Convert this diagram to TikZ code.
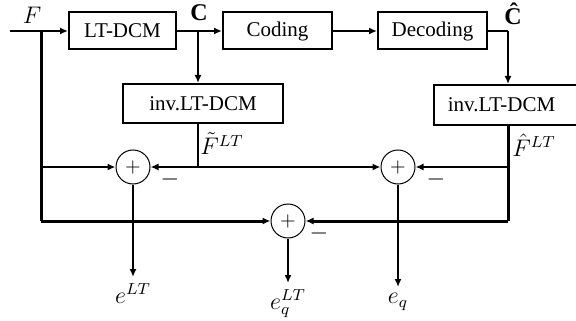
\documentclass[tikz,border=0pt]{standalone}
\usepackage{fontspec}
\setmainfont{Liberation Serif}
\usetikzlibrary{arrows.meta}
\tikzset{
  blk/.style={draw,line width=1pt,inner sep=0pt,font=\fontsize{10.5}{12}\selectfont},
  sumnode/.style={circle,draw,line width=0.5pt,minimum size=17pt,inner sep=0pt},
  sig/.style={line width=1pt},
  thk/.style={line width=1.5pt},
  arr/.style={sig,-{Latex[length=4pt,width=3.5pt]}},
  lbl/.style={inner sep=0pt,font=\large},
  outlbl/.style={anchor=north,inner sep=3pt,font=\large},
}

\begin{document}
\begin{tikzpicture}[x=0.5pt,y=-0.5pt]
  \useasboundingbox (0,0) rectangle (576,320);
  % forward path
  \node[blk,minimum width=53.5pt,minimum height=18.5pt] (dcm) at (122.5,31) {LT-DCM};
  \node[blk,minimum width=54.5pt,minimum height=18.5pt] (cod) at (277.5,31) {Coding};
  \node[blk,minimum width=54.5pt,minimum height=18.5pt] (dec) at (432.5,31) {Decoding};
  \node[blk,minimum width=80pt,minimum height=19.5pt] (invl) at (203,103.5) {inv.LT-DCM};
  \node[blk,minimum width=71.5pt,minimum height=20pt] (invr) at (505.5,105) {\hspace*{-2pt}inv.LT-DCM\hspace*{2pt}};
  \coordinate (fin) at (10,31);
  \coordinate (fj) at (41,31);
  \coordinate (cj) at (198,31);
  \coordinate (chat) at (508,31);
  \node[lbl] (flab) at (32,15) {$F$};
  \node[lbl] (clab) at (199,13) {\textbf{C}};
  \node[lbl] (chlab) at (513,14) {\textbf{\^C}};
  \draw[arr] (fin) -- (dcm.west);
  \draw[arr] (dcm.east) -- (cod.west);
  \draw[arr] (cod.east) -- (dec.west);
  \draw[arr] (cj) -- (cj |- invl.north);
  \draw[sig] (dec.east) -- (chat);
  \draw[arr] (chat) -- (chat |- invr.north);
  % summing points
  \node[sumnode] (s1) at (133,167) {$+$};
  \node[sumnode] (s2) at (398,167) {$+$};
  \node[sumnode] (s3) at (288,221) {$+$};
  \node[lbl] (m1) at (170,179) {$-$};
  \node[lbl] (m2) at (436,179) {$-$};
  \node[lbl] (m3) at (319,233) {$-$};
  % reconstructions
  \coordinate (ft) at (198,167);
  \coordinate (fh) at (508,167);
  \coordinate (fhb) at (508,221);
  \coordinate (fb) at (41,221);
  \node[lbl,anchor=west] (ftlab) at (200,144) {$\tilde{F}^{LT}$};
  \node[lbl,anchor=west] (fhlab) at (512,145) {$\hat{F}^{LT}$};
  \draw[sig] (invl.south -| ft) -- (ft);
  \draw[arr] (ft) -- (s1.east);
  \draw[arr] (ft) -- (s2.west);
  \draw[thk] (fj) -- (fb);
  \draw[arr] (fj |- s1) -- (s1.west);
  \draw[arr,thk] (fb) -- (s3.west);
  \draw[thk] (invr.south -| fh) -- (fhb);
  \draw[arr] (fh) -- (s2.east);
  \draw[arr,thk] (fhb) -- (s3.east);
  % errors
  \node[outlbl] (elt) at (133,277) {$e^{LT}$};
  \node[outlbl] (eqlt) at (288,283) {$e_q^{LT}$};
  \node[outlbl] (eq) at (398,287) {$e_q$};
  \draw[arr] (s1) -- (elt);
  \draw[arr] (s3) -- (eqlt);
  \draw[arr] (s2) -- (eq);
\end{tikzpicture}
\end{document}
